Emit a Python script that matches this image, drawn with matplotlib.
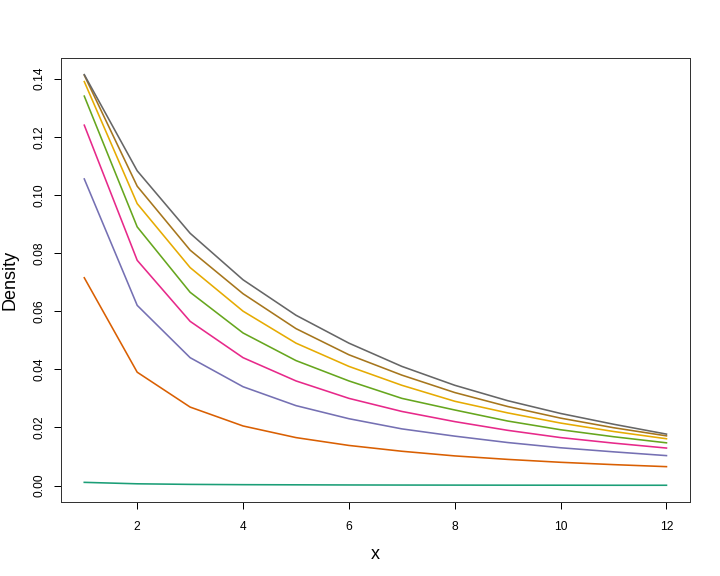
import numpy as np
import matplotlib.pyplot as plt

plt.rcParams['font.family'] = ['Liberation Sans', 'DejaVu Sans']

# x values and density curves
x = np.arange(1, 13)
teal = [0.0011, 0.0006, 0.0004, 0.0003, 0.00025, 0.0002, 0.00017, 0.00015, 0.00013, 0.00012, 0.0001, 0.0001]
orange = [0.0715, 0.039, 0.027, 0.0205, 0.0165, 0.0138, 0.0118, 0.0102, 0.009, 0.008, 0.0072, 0.0065]
purple = [0.1055, 0.062, 0.044, 0.034, 0.0275, 0.023, 0.0195, 0.017, 0.0148, 0.013, 0.0116, 0.0103]
pink = [0.124, 0.0775, 0.0565, 0.044, 0.036, 0.030, 0.0255, 0.022, 0.019, 0.0165, 0.0146, 0.0129]
green = [0.134, 0.089, 0.0665, 0.0525, 0.043, 0.036, 0.030, 0.026, 0.0222, 0.0192, 0.0168, 0.0147]
yellow = [0.139, 0.097, 0.075, 0.060, 0.049, 0.041, 0.0345, 0.029, 0.025, 0.0215, 0.0186, 0.0161]
brown = [0.1412, 0.103, 0.081, 0.066, 0.054, 0.045, 0.038, 0.032, 0.0272, 0.0232, 0.0199, 0.0171]
gray = [0.1414, 0.1083, 0.0868, 0.0708, 0.0586, 0.049, 0.041, 0.0345, 0.0292, 0.0248, 0.0211, 0.0177]

series = [teal, orange, purple, pink, green, yellow, brown, gray]
colors = ['#1B9E77', '#D95F02', '#7570B3', '#E7298A', '#66A61E', '#E6AB02', '#A6761D', '#666666']

fig = plt.figure(figsize=(10, 8), dpi=72)
ax = fig.add_axes([0.0847, 0.1285, 0.8733, 0.7705])

for ys, c in zip(series, colors):
    ax.plot(x, ys, color=c, linewidth=1.6)

# R style axis limits (4% padding)
ax.set_xlim(1 - 11 * 0.04, 12 + 11 * 0.04)
ymax = 0.1414
ax.set_ylim(-ymax * 0.04, ymax * 1.04)

ax.set_xticks([2, 4, 6, 8, 10, 12])
ax.set_yticks(np.arange(0, 0.141, 0.02))
ax.set_yticklabels(['%.2f' % v for v in np.arange(0, 0.141, 0.02)], rotation=90, va='center')
ax.tick_params(direction='out', length=7, width=1, labelsize=12)
ax.tick_params(axis='x', pad=12)
ax.tick_params(axis='y', pad=8)

for s in ax.spines.values():
    s.set_linewidth(1)
    s.set_color('#333333')

ax.set_xlabel('x', fontsize=18, labelpad=13)
ax.set_ylabel('Density', fontsize=18, labelpad=15)

fig.savefig('out.png', dpi=72)
